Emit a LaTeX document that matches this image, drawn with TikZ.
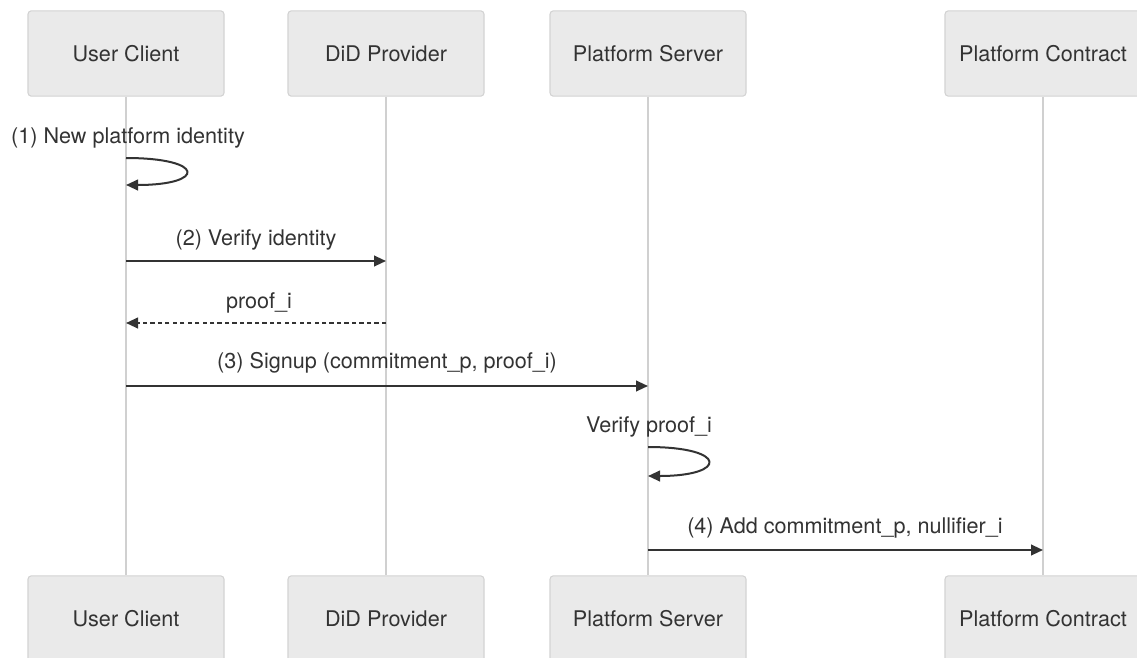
\documentclass[tikz,border=0pt]{standalone}
\usepackage{fontspec}
\setmainfont{TeX Gyre Heros}
\usetikzlibrary{arrows.meta}
\definecolor{ink}{HTML}{333333}
\definecolor{boxfill}{HTML}{EAEAEA}
\definecolor{boxline}{HTML}{D3D3D3}
\definecolor{lifeline}{HTML}{D0D0D0}
\tikzset{
  actor/.style={draw=boxline, fill=boxfill, line width=0.8pt, rounded corners=2.5pt,
    minimum width=147pt, minimum height=64pt, inner sep=0pt, text=ink},
  life/.style={draw=lifeline, line width=1.6pt},
  msg/.style={draw=ink, line width=1.5pt, -{Triangle[length=9pt,width=8pt]}},
  reply/.style={msg, dash pattern=on 3.2pt off 2.4pt},
  msglabel/.style={anchor=base, text=ink, inner sep=0pt},
}
\begin{document}
\begin{tikzpicture}[x=0.75pt, y=-0.75pt, font=\fontsize{16.2}{19.5}\selectfont]
\useasboundingbox (0,0) rectangle (1137,657);
\clip (0,0) rectangle (1137,657);
\fill[white] (0,0) rectangle (1137,657);

% participants, top row
\node[actor] (uc)  at (126,53.5)  {User Client};
\node[actor] (did) at (386,53.5)  {DiD Provider};
\node[actor] (ps)  at (648,53.5)  {Platform Server};
\node[actor] (pc)  at (1043,53.5) {Platform Contract};

% participants, bottom row
\node[actor] (ucB)  at (126,618.5)  {User Client};
\node[actor] (didB) at (386,618.5)  {DiD Provider};
\node[actor] (psB)  at (648,618.5)  {Platform Server};
\node[actor] (pcB)  at (1043,618.5) {Platform Contract};

% lifelines
\draw[life] (uc.south)  -- (ucB.north);
\draw[life] (did.south) -- (didB.north);
\draw[life] (ps.south)  -- (psB.north);
\draw[life] (pc.south)  -- (pcB.north);

% message end points on the lifelines
\coordinate (s1a) at (126,158);
\coordinate (s1b) at (126,185);
\coordinate (m2a) at (126,261);
\coordinate (m2b) at (386,261);
\coordinate (r2a) at (386,323);
\coordinate (r2b) at (126,323);
\coordinate (m3a) at (126,386);
\coordinate (m3b) at (648,386);
\coordinate (s4a) at (648,447);
\coordinate (s4b) at (648,476);
\coordinate (m5a) at (648,550);
\coordinate (m5b) at (1043,550);

% (1) self message
\node[msglabel] (t1) at (128,143) {(1) New platform identity};
\draw[msg] (s1a) .. controls (206,158) and (206,185) .. (s1b);

% (2) verify identity and the reply
\node[msglabel] (t2) at (256,245) {(2) Verify identity};
\draw[msg] (m2a) -- (m2b);
\node[msglabel] (t2r) at (259,308) {proof\_i};
\draw[reply] (r2a) -- (r2b);

% (3) signup
\node[msglabel] (t3) at (387,368) {(3) Signup (commitment\_p, proof\_i)};
\draw[msg] (m3a) -- (m3b);

% server-side check
\node[msglabel] (t4) at (649,432) {Verify proof\_i};
\draw[msg] (s4a) .. controls (728,447) and (728,476) .. (s4b);

% (4) on-chain registration
\node[msglabel] (t5) at (845,533) {(4) Add commitment\_p, nullifier\_i};
\draw[msg] (m5a) -- (m5b);
\end{tikzpicture}
\end{document}
